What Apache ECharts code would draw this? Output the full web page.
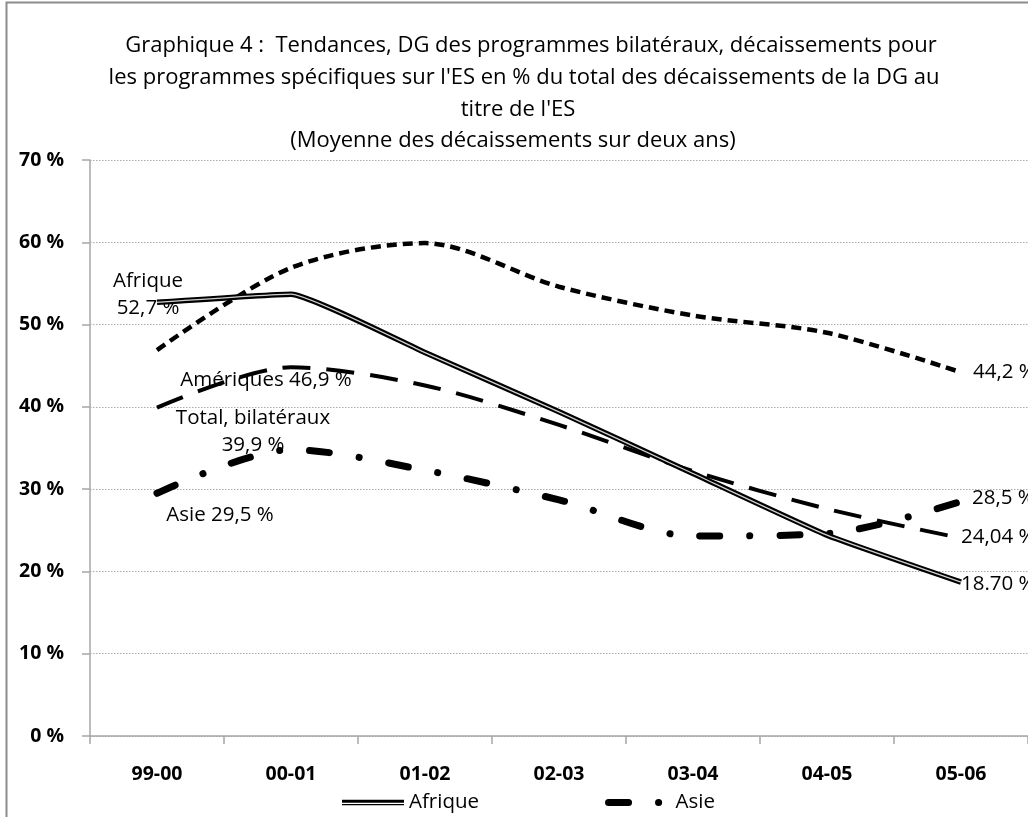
<!DOCTYPE html>
<html>
<head>
<meta charset="utf-8">
<script src="https://cdn.jsdelivr.net/npm/echarts@6/dist/echarts.min.js"></script>
<style>
html,body{margin:0;padding:0;background:#fff;}
#chart{width:1028px;height:817px;}
</style>
</head>
<body>
<div id="chart"></div>
<script>
const categories = ['99-00', '00-01', '01-02', '02-03', '03-04', '04-05', '05-06'];
const afrique = [52.7, 53.7, 46.6, 39.4, 31.9, 24.4, 18.7];
const ameriques = [46.9, 56.9, 59.9, 54.6, 51.1, 49.0, 44.2];
const totalBilat = [39.9, 44.8, 42.6, 37.8, 32.2, 27.6, 24.04];
const asie = [29.5, 34.8, 32.3, 28.7, 24.3, 24.6, 28.5];
const yTicks = [0, 10, 20, 30, 40, 50, 60, 70];
const titleLines = [
  "Graphique 4 :  Tendances, DG des programmes bilatéraux, décaissements pour",
  "les programmes spécifiques sur l'ES en % du total des décaissements de la DG au",
  "titre de l'ES",
  "(Moyenne des décaissements sur deux ans)"
];
const startLabels = {
  afrique: 'Afrique\n52,7 %',
  ameriques: 'Amériques 46,9 %',
  total: 'Total, bilatéraux\n39,9 %',
  asie: 'Asie 29,5 %'
};
const endLabels = {
  afrique: '18.70 %',
  ameriques: '44,2 %',
  total: '24,04 %',
  asie: '28,5 %'
};

const AFONT = "'Open Sans', 'Liberation Sans', sans-serif";
const LFONT = "'Open Sans', 'Liberation Sans', sans-serif";
const labelText = {color: '#000', fontFamily: LFONT, fontSize: 20.5, lineHeight: 27};

function buildData(values, startText, startOffset, endText, endOffset) {
  return values.map(function (v, i) {
    if (i === 0 || i === values.length - 1) {
      const isStart = i === 0;
      return {
        value: v,
        symbol: 'circle',
        symbolSize: 0.1,
        label: Object.assign({
          show: true,
          position: 'inside',
          align: isStart ? 'center' : 'left',
          verticalAlign: 'middle',
          offset: isStart ? startOffset : endOffset,
          formatter: isStart ? startText : endText
        }, labelText)
      };
    }
    return v;
  });
}

const titleCenters = [531, 524, 518, 513];
const titleGraphics = titleLines.map(function (t, i) {
  return {
    type: 'text', x: titleCenters[i], y: 46 + i * 31.7,
    style: {text: t, fontFamily: LFONT, fontSize: 22, textAlign: 'center', textVerticalAlign: 'middle', fill: '#000'}
  };
});

const chart = echarts.init(document.getElementById('chart'), null, {renderer: 'canvas'});
chart.setOption({
  backgroundColor: '#fff',
  animation: false,
  graphic: [
    {type: 'rect', shape: {x: 6.5, y: 2.5, width: 1100, height: 1000}, style: {fill: 'none', stroke: '#8c8c8c', lineWidth: 2}, z: -10}
  ].concat(titleGraphics),
  grid: {left: 90, top: 160, right: -7, bottom: 81, containLabel: false},
  legend: {
    data: [
      {name: 'Afrique', icon: 'path://M0,-4.3M0,9.7M0,0L62,0L62,3L0,3Z M0,4.2L62,4.2L62,5.4L0,5.4Z', itemStyle: {color: '#000', opacity: 1}},
      {name: 'Asie', lineStyle: {color: '#000', width: 7, type: [20, 30, 0.1, 30], cap: 'round'}}
    ],
    left: 337, top: 787,
    itemWidth: 62, itemHeight: 14, itemGap: 126,
    itemStyle: {color: 'rgba(0,0,0,0)', borderWidth: 0, opacity: 0},
    textStyle: {fontFamily: LFONT, fontSize: 20.5, color: '#000'}
  },
  xAxis: {
    type: 'category',
    data: categories,
    boundaryGap: true,
    axisLine: {lineStyle: {color: '#a6a6a6', width: 1.5}},
    axisTick: {show: true, length: 8, lineStyle: {color: '#a6a6a6', width: 1.5}},
    axisLabel: {margin: 28, color: '#000', fontFamily: AFONT, fontSize: 19.5, fontWeight: 'bold'},
    splitLine: {show: false}
  },
  yAxis: {
    type: 'value',
    min: yTicks[0], max: yTicks[yTicks.length - 1], interval: 10,
    axisLine: {show: true, lineStyle: {color: '#a6a6a6', width: 1.5}},
    axisTick: {show: true, length: 8, inside: false, lineStyle: {color: '#a6a6a6', width: 1.5}},
    axisLabel: {margin: 26, color: '#000', fontFamily: AFONT, fontSize: 19.5, fontWeight: 'bold', formatter: '{value} %'},
    splitLine: {show: true, lineStyle: {color: '#aaa', type: [1.5, 1.5], width: 1}}
  },
  series: [
    {
      name: 'Amériques', type: 'line', smooth: 0.3, symbol: 'none',
      itemStyle: {color: '#000'},
      data: buildData(ameriques, startLabels.ameriques, [109, 30], endLabels.ameriques, [12, 0]),
      lineStyle: {color: '#000', width: 4.5, type: [10, 6], cap: 'butt'}, z: 3
    },
    {
      name: 'Total, bilatéraux', type: 'line', smooth: 0.3, symbol: 'none',
      itemStyle: {color: '#000'},
      data: buildData(totalBilat, startLabels.total, [96, 24], endLabels.total, [0, -1]),
      lineStyle: {color: '#000', width: 4, type: [28, 16], cap: 'butt'}, z: 3
    },
    {
      name: 'Afrique', type: 'line', smooth: 0.12, symbol: 'none',
      itemStyle: {color: '#000'},
      data: buildData(afrique, startLabels.afrique, [-9, -8], endLabels.afrique, [0, 2]),
      lineStyle: {color: '#000', width: 5.5}, z: 4
    },
    {
      name: 'Afrique_inner', type: 'line', smooth: 0.12, symbol: 'none',
      itemStyle: {color: '#ccc'},
      data: afrique, silent: true,
      lineStyle: {color: '#d0d0d0', width: 1.3}, z: 5
    },
    {
      name: 'Asie', type: 'line', smooth: 0.3, symbol: 'none',
      itemStyle: {color: '#000'},
      data: buildData(asie, startLabels.asie, [63, 22], endLabels.asie, [11, -3]),
      lineStyle: {color: '#000', width: 7, type: [20, 30, 0.1, 30], cap: 'round'}, z: 3
    }
  ]
});
</script>
</body>
</html>
